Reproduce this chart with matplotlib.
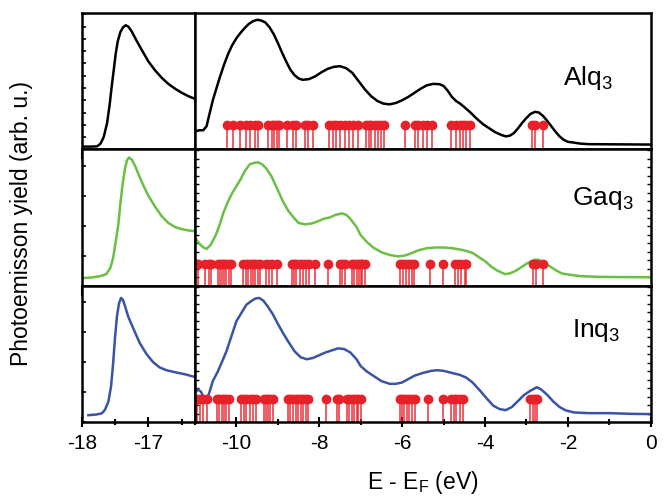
import numpy as np
import matplotlib.pyplot as plt
from matplotlib.ticker import MultipleLocator

plt.rcParams['font.family'] = ['Liberation Sans', 'DejaVu Sans']
plt.rcParams['mathtext.fontset'] = 'custom'
plt.rcParams['mathtext.rm'] = 'Liberation Sans'
plt.rcParams['mathtext.it'] = 'Liberation Sans:italic'
plt.rcParams['axes.unicode_minus'] = False

# secondary electron cutoff (left panels)
cut_e_alq = [-18.0, -17.85, -17.77, -17.72, -17.67, -17.62, -17.58, -17.55, -17.52, -17.49,
             -17.46, -17.42, -17.38, -17.34, -17.3, -17.25, -17.18, -17.1, -17.0, -16.9,
             -16.8, -16.7, -16.6, -16.5, -16.4, -16.3]
cut_alq = [0.02, 0.02, 0.022, 0.04, 0.09, 0.19, 0.33, 0.46, 0.58, 0.70,
           0.79, 0.86, 0.895, 0.91, 0.90, 0.865, 0.80, 0.73, 0.645, 0.58,
           0.525, 0.48, 0.445, 0.415, 0.39, 0.37]

cut_e_gaq = [-18.0, -17.85, -17.72, -17.63, -17.57, -17.53, -17.49, -17.45, -17.42, -17.39,
             -17.35, -17.32, -17.29, -17.25, -17.2, -17.15, -17.08, -17.0, -16.9, -16.8,
             -16.7, -16.6, -16.5, -16.4, -16.3]
cut_gaq = [0.055, 0.06, 0.07, 0.085, 0.13, 0.20, 0.32, 0.45, 0.60, 0.73,
           0.86, 0.92, 0.94, 0.925, 0.88, 0.82, 0.74, 0.66, 0.58, 0.51,
           0.46, 0.43, 0.415, 0.405, 0.40]

cut_e_inq = [-17.9, -17.78, -17.7, -17.65, -17.6, -17.56, -17.53, -17.5, -17.47, -17.44,
             -17.41, -17.38, -17.35, -17.3, -17.22, -17.13, -17.03, -16.93, -16.83, -16.73,
             -16.6, -16.45, -16.3]
cut_inq = [0.05, 0.055, 0.063, 0.09, 0.15, 0.26, 0.42, 0.62, 0.78, 0.87,
           0.91, 0.895, 0.85, 0.77, 0.68, 0.58, 0.50, 0.44, 0.40, 0.38,
           0.365, 0.35, 0.33]

# valence band spectra (right panels)
vb_e_alq = [-11.0, -10.9, -10.8, -10.72, -10.65, -10.57, -10.5, -10.41, -10.3, -10.2,
            -10.1, -10.0, -9.9, -9.8, -9.7, -9.6, -9.5, -9.4, -9.3, -9.2,
            -9.1, -9.0, -8.9, -8.8, -8.7, -8.6, -8.5, -8.4, -8.25, -8.1,
            -7.95, -7.8, -7.65, -7.5, -7.35, -7.2, -7.05, -6.9, -6.75, -6.6,
            -6.45, -6.3, -6.15, -6.0, -5.85, -5.7, -5.55, -5.4, -5.25, -5.1,
            -5.0, -4.9, -4.8, -4.7, -4.6, -4.5, -4.35, -4.2, -4.05, -3.9,
            -3.75, -3.6, -3.5, -3.4, -3.3, -3.2, -3.1, -3.0, -2.9, -2.79,
            -2.7, -2.6, -2.5, -2.4, -2.3, -2.2, -2.1, -2.0, -1.87, -1.7,
            -1.5, -1.0, -0.5, 0.0]
vb_alq = [0.13, 0.14, 0.14, 0.17, 0.26, 0.36, 0.43, 0.52, 0.62, 0.70,
          0.765, 0.815, 0.855, 0.89, 0.92, 0.94, 0.95, 0.945, 0.93, 0.895,
          0.845, 0.78, 0.71, 0.645, 0.585, 0.545, 0.52, 0.51, 0.515, 0.535,
          0.565, 0.59, 0.605, 0.61, 0.595, 0.56, 0.50, 0.44, 0.39, 0.355,
          0.335, 0.33, 0.34, 0.36, 0.385, 0.415, 0.445, 0.47, 0.48, 0.478,
          0.465, 0.43, 0.385, 0.355, 0.335, 0.31, 0.27, 0.225, 0.185, 0.155,
          0.125, 0.105, 0.095, 0.10, 0.12, 0.155, 0.195, 0.23, 0.26, 0.275,
          0.27, 0.245, 0.21, 0.17, 0.13, 0.095, 0.07, 0.055, 0.05, 0.042,
          0.038, 0.037, 0.036, 0.035]

vb_e_gaq = [-11.0, -10.9, -10.8, -10.72, -10.62, -10.5, -10.4, -10.32, -10.2, -10.1,
            -10.0, -9.9, -9.8, -9.68, -9.58, -9.48, -9.38, -9.28, -9.15, -9.0,
            -8.88, -8.75, -8.62, -8.5, -8.35, -8.2, -8.05, -7.9, -7.75, -7.6,
            -7.45, -7.35, -7.25, -7.1, -7.0, -6.85, -6.7, -6.5, -6.3, -6.1,
            -5.95, -5.8, -5.6, -5.4, -5.2, -5.0, -4.8, -4.6, -4.45, -4.3,
            -4.15, -4.0, -3.85, -3.7, -3.52, -3.4, -3.25, -3.1, -2.95, -2.8,
            -2.7, -2.6, -2.45, -2.3, -2.15, -1.95, -1.7, -1.3, -0.8, 0.0]
vb_gaq = [0.35, 0.31, 0.28, 0.27, 0.30, 0.37, 0.45, 0.53, 0.62, 0.68,
          0.73, 0.78, 0.84, 0.89, 0.90, 0.905, 0.89, 0.86, 0.80, 0.70,
          0.62, 0.55, 0.50, 0.46, 0.45, 0.455, 0.47, 0.49, 0.50, 0.52,
          0.53, 0.52, 0.49, 0.43, 0.37, 0.32, 0.28, 0.245, 0.225, 0.215,
          0.22, 0.235, 0.26, 0.275, 0.28, 0.28, 0.275, 0.265, 0.255, 0.24,
          0.21, 0.18, 0.14, 0.11, 0.085, 0.09, 0.11, 0.14, 0.17, 0.19,
          0.19, 0.175, 0.145, 0.115, 0.09, 0.08, 0.07, 0.065, 0.063, 0.062]

vb_e_inq = [-11.0, -10.93, -10.85, -10.78, -10.72, -10.65, -10.57, -10.45, -10.35, -10.24,
            -10.12, -10.0, -9.88, -9.76, -9.65, -9.55, -9.45, -9.35, -9.25, -9.12,
            -9.0, -8.88, -8.75, -8.6, -8.45, -8.3, -8.15, -8.0, -7.85, -7.7,
            -7.55, -7.4, -7.25, -7.1, -7.0, -6.85, -6.7, -6.5, -6.3, -6.15,
            -6.0, -5.85, -5.7, -5.5, -5.3, -5.15, -5.0, -4.8, -4.6, -4.45,
            -4.3, -4.12, -3.95, -3.8, -3.65, -3.5, -3.35, -3.2, -3.05, -2.9,
            -2.75, -2.65, -2.5, -2.35, -2.2, -2.05, -1.85, -1.5, -1.0, -0.5,
            0.0]
vb_inq = [0.21, 0.24, 0.22, 0.17, 0.16, 0.22, 0.30, 0.37, 0.44, 0.52,
          0.63, 0.74, 0.80, 0.86, 0.885, 0.905, 0.91, 0.89, 0.85, 0.79,
          0.72, 0.655, 0.59, 0.52, 0.475, 0.46, 0.47, 0.49, 0.51, 0.525,
          0.54, 0.535, 0.51, 0.46, 0.41, 0.37, 0.34, 0.30, 0.28, 0.28,
          0.29, 0.315, 0.34, 0.36, 0.375, 0.38, 0.375, 0.36, 0.345, 0.325,
          0.29, 0.23, 0.17, 0.12, 0.095, 0.087, 0.11, 0.155, 0.20, 0.23,
          0.255, 0.24, 0.20, 0.15, 0.11, 0.085, 0.07, 0.065, 0.065, 0.06,
          0.058]

# calculated molecular orbital energies (stems)
mo_alq = [-10.22, -10.08, -9.92, -9.76, -9.68, -9.56, -9.48, -9.24, -9.15, -9.10,
          -9.03, -8.97, -8.79, -8.63, -8.57, -8.35, -8.27, -8.15, -7.76, -7.68,
          -7.60, -7.50, -7.38, -7.28, -7.18, -7.06, -6.88, -6.80, -6.74, -6.66,
          -6.59, -6.52, -6.44, -5.93, -5.69, -5.61, -5.49, -5.40, -5.29, -4.81,
          -4.69, -4.61, -4.53, -4.45, -4.37, -2.87, -2.79, -2.59]
mo_gaq = [-10.93, -10.77, -10.67, -10.62, -10.44, -10.40, -10.35, -10.30, -10.24, -10.18,
          -10.12, -9.84, -9.78, -9.72, -9.66, -9.60, -9.54, -9.48, -9.42, -9.28,
          -9.22, -9.15, -9.02, -8.67, -8.62, -8.55, -8.47, -8.39, -8.31, -8.25,
          -8.11, -7.79, -7.50, -7.44, -7.38, -7.22, -7.17, -7.10, -7.05, -7.00,
          -6.96, -6.90, -6.06, -5.98, -5.91, -5.84, -5.77, -5.72, -5.33, -5.01,
          -4.73, -4.65, -4.57, -4.49, -4.45, -2.84, -2.77, -2.61]
mo_inq = [-10.95, -10.89, -10.81, -10.70, -10.48, -10.42, -10.36, -10.31, -10.24, -10.18,
          -9.88, -9.82, -9.76, -9.68, -9.61, -9.52, -9.34, -9.29, -9.24, -9.18,
          -9.12, -8.75, -8.70, -8.63, -8.57, -8.51, -8.45, -8.39, -8.33, -8.27,
          -7.83, -7.58, -7.52, -7.34, -7.28, -7.22, -7.17, -7.10, -7.06, -7.00,
          -6.06, -6.01, -5.96, -5.89, -5.83, -5.77, -5.69, -5.37, -5.01, -4.81,
          -4.75, -4.69, -4.61, -4.54, -2.92, -2.85, -2.79, -2.74]

names = ['Alq$_3$', 'Gaq$_3$', 'Inq$_3$']
colors = ['#000000', '#6cbf45', '#3a54a4']
stem_h = [0.175, 0.16, 0.17]
label_pos = [(-2.11, 0.47), (-1.91, 0.59), (-1.91, 0.62)]

cut_e = [cut_e_alq, cut_e_gaq, cut_e_inq]
cut_y = [cut_alq, cut_gaq, cut_inq]
vb_e = [vb_e_alq, vb_e_gaq, vb_e_inq]
vb_y = [vb_alq, vb_gaq, vb_inq]
mo = [mo_alq, mo_gaq, mo_inq]

W, H = 669, 500
fig = plt.figure(figsize=(W / 100, H / 100), dpi=100)

x0, xb, x1 = 81.7, 195.0, 650.7
row_top = 13.0
row_h = (422.0 - 13.0) / 3
red = '#e8202a'

for i in range(3):
    top = row_top + i * row_h
    bottom = (H - top - row_h) / H
    axl = fig.add_axes([x0 / W, bottom, (xb - x0) / W, row_h / H])
    axr = fig.add_axes([xb / W, bottom, (x1 - xb) / W, row_h / H])

    axl.plot(cut_e[i], cut_y[i], color=colors[i], lw=1.8)
    axr.plot(vb_e[i], vb_y[i], color=colors[i], lw=1.8)

    axr.vlines(mo[i], 0, stem_h[i], color=red, lw=1.2, alpha=0.85)
    axr.plot(mo[i], [stem_h[i]] * len(mo[i]), 'o', color=red, ms=6, mec=red)

    axr.text(label_pos[i][0], label_pos[i][1], names[i], fontsize=19, va='baseline', ha='left')

    axl.set_xlim(-18, -16.3)
    axr.set_xlim(-11, 0)
    for ax in (axl, axr):
        ax.set_ylim(0, 1)
        for s in ax.spines.values():
            s.set_linewidth(1.8)
        ax.tick_params(labelsize=15, width=1.5)
    axl.xaxis.set_major_locator(MultipleLocator(1))
    axl.xaxis.set_minor_locator(MultipleLocator(0.5))
    axr.xaxis.set_major_locator(MultipleLocator(2))
    axr.xaxis.set_minor_locator(MultipleLocator(1))

    tdir = 'inout' if i == 2 else 'out'
    for ax in (axl, axr):
        ax.tick_params(axis='x', which='major', direction=tdir, length=7, pad=5)
        ax.tick_params(axis='x', which='minor', direction=tdir, length=5, width=1.5)
        if i < 2:
            ax.tick_params(axis='x', labelbottom=False)

    # y ticks without labels
    axl.yaxis.set_major_locator(MultipleLocator(0.09 if i == 0 else 0.22))
    axl.tick_params(axis='y', which='major', direction='in', length=3, labelleft=False, width=1.2)
    axr.yaxis.set_major_locator(MultipleLocator(0.062))
    axr.tick_params(axis='y', which='major', direction='in', length=3, left=(i > 0),
                    right=(i > 0), labelleft=False, width=1.0)

fig.text(22 / W, 1 - 224 / H, 'Photoemisson yield (arb. u.)', rotation=90,
         fontsize=16.5, ha='center', va='center')
fig.text(423 / W, 1 - 482 / H, 'E - E$_\\mathrm{F}$ (eV)', fontsize=16.5,
         ha='center', va='center')

fig.savefig('out.png', dpi=100)
